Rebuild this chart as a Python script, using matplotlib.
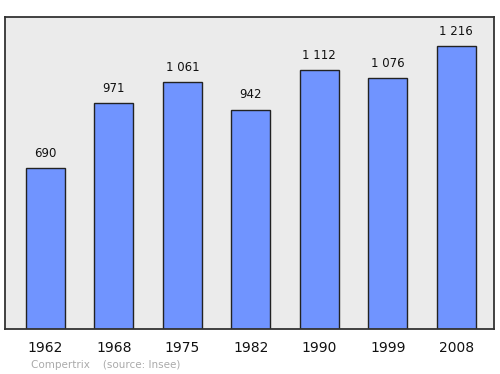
import matplotlib.pyplot as plt

years = ["1962", "1968", "1975", "1982", "1990", "1999", "2008"]
population = [690, 971, 1061, 942, 1112, 1076, 1216]
value_labels = ["690", "971", "1 061", "942", "1 112", "1 076", "1 216"]

fig = plt.figure(figsize=(5, 3.74), dpi=100)
# axes box in pixels: left 5, right 494, top 17, bottom 329
ax = fig.add_axes([5 / 500, 1 - 329 / 374, 489 / 500, 312 / 374])
ax.set_facecolor("#ebebeb")

x = list(range(len(years)))
ax.bar(x, population, width=0.57, color="#7094ff", edgecolor="#222222", linewidth=1.0, zorder=2)

for xi, val, lab in zip(x, population, value_labels):
    ax.annotate(lab, (xi, val), xytext=(0, 6), textcoords="offset points",
                ha="center", va="bottom", fontsize=8.5, color="#111111")

ax.set_xlim(-0.59, 6.55)
ax.set_ylim(0, 1340)
ax.set_yticks([])
ax.set_xticks(x)
ax.set_xticklabels(years, fontsize=10, color="#111111")
ax.tick_params(axis="x", length=0, pad=9)
for spine in ax.spines.values():
    spine.set_color("#333333")
    spine.set_linewidth(1.3)

fig.text(31 / 500, 1 - 365 / 374, "Compertrix    (source: Insee)", fontsize=7.5,
         color="#aaaaaa", ha="left", va="center")

fig.savefig("out.png", dpi=100)
